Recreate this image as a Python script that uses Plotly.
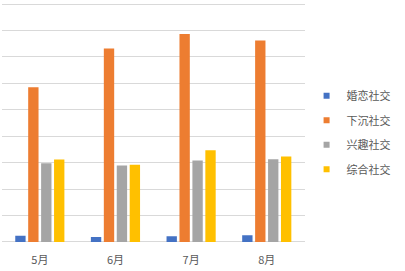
import plotly.graph_objects as go

months = ["5月", "6月", "7月", "8月"]
series_names = ["婚恋社交", "下沉社交", "兴趣社交", "综合社交"]
hunlian = [0.23, 0.19, 0.22, 0.25]
xiachen = [5.85, 7.32, 7.87, 7.62]
xingqu = [2.98, 2.89, 3.08, 3.13]
zonghe = [3.12, 2.92, 3.47, 3.23]
colors = ["#4472C4", "#ED7D31", "#A5A5A5", "#FFC000"]

values = [hunlian, xiachen, xingqu, zonghe]
font = "Noto Sans CJK SC, Noto Sans, sans-serif"

fig = go.Figure()
for name, vals, c in zip(series_names, values, colors):
    fig.add_trace(go.Bar(x=months, y=vals, name=name, marker=dict(color=c, line=dict(width=0)),
                         showlegend=False))
for i, (name, c) in enumerate(zip(series_names, colors)):
    fig.add_trace(go.Scatter(x=[None], y=[None], mode="markers", name=name, legendgroup=str(i),
                             marker=dict(symbol="square", size=6, color=c)))

fig.update_layout(
    width=405, height=271,
    margin=dict(l=2, r=89, t=3, b=28),
    paper_bgcolor="white", plot_bgcolor="white",
    barmode="group", bargap=0.316, bargroupgap=0.2,
    font=dict(family=font, size=11, color="#595959"),
    showlegend=True,
    legend=dict(xref="container", yref="container", x=0.757, y=0.70, xanchor="left", yanchor="top",
                font=dict(size=11, color="#595959"), tracegroupgap=5.5, itemwidth=30,
                bgcolor="rgba(0,0,0,0)"),
    xaxis=dict(showline=False, showgrid=False, ticks="", ticklabelstandoff=9,
               tickfont=dict(size=11, color="#595959")),
    yaxis=dict(range=[-0.04, 9.04], tickvals=list(range(10)), showticklabels=False,
               gridcolor="#D9D9D9", gridwidth=1, zeroline=False, showline=False),
)
fig.write_html("out.html")
